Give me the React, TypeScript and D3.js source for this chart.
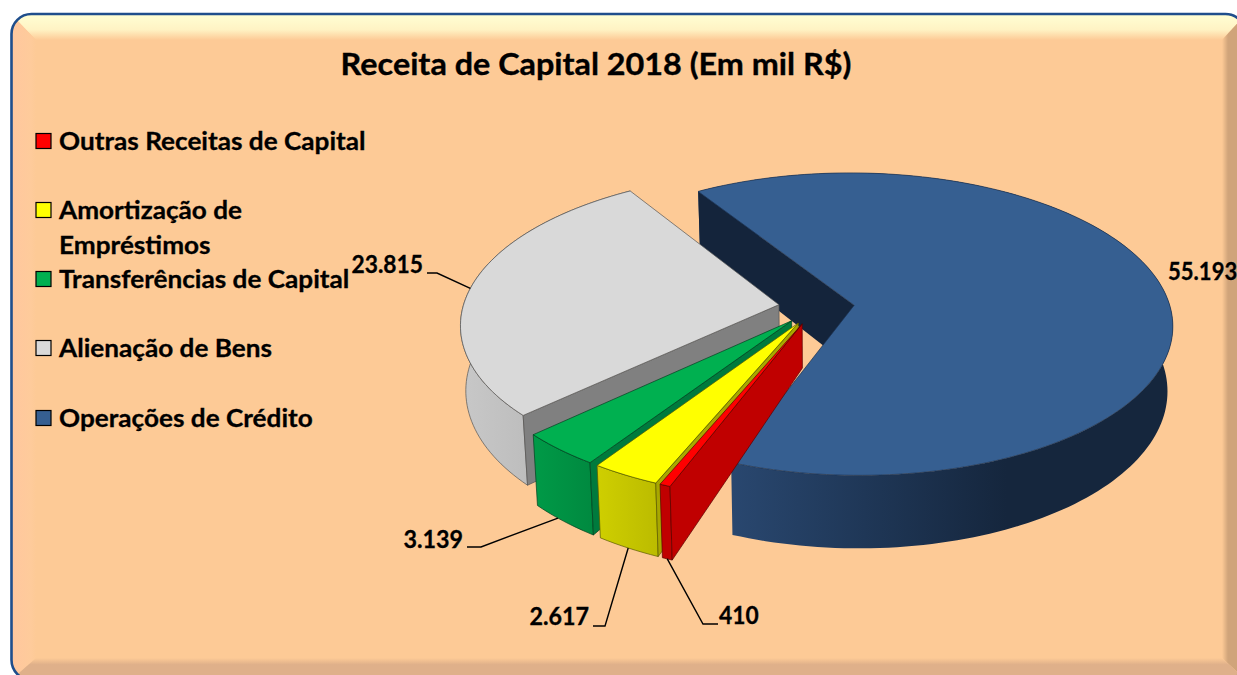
import React from "react";
import * as d3 from "d3";

const title = "Receita de Capital 2018 (Em mil R$)";
const categories = ["Outras Receitas de Capital", "Amortização de Empréstimos", "Transferências de Capital", "Alienação de Bens", "Operações de Crédito"];
const legendLines = [["Outras Receitas de Capital"], ["Amortização de", "Empréstimos"], ["Transferências de Capital"], ["Alienação de Bens"], ["Operações de Crédito"]];
const values = [410, 2617, 3139, 23815, 55193];
const topColors = ["#ff0000", "#ffff00", "#00b050", "#d9d9d9", "#365f91"];
const wallColors = ["#c00000", "#a8a800", "#007a3d", "#808080", "#14243b"];
const sideColors = [["#c00000", "#c00000"], ["#cfcf00", "#bcbc00"], ["#009a47", "#008a40"], ["#c8c8c8", "#adadad"], ["#29476f", "#15263d"]];
const edgeColors = ["#5a0000", "#5a5a00", "#00401f", "#555555", "#1c3250"];

const W = 1237, H = 675;
const cx = 816.5, cy = 307, A = 316, B = 149.3, K = 0.125, EXPL = 0.12, DEPTH = 64, BOTTOM_SCALE = 0.985;
const rad = (d: number) => (d * Math.PI) / 180;
const START = 201;

const fmt = d3.formatLocale({ decimal: ",", thousands: ".", grouping: [3], currency: ["R$", ""] }).format(",d");
const pie = d3.pie<number>().sort(null).startAngle(rad(START)).endAngle(rad(START + 360));
const arcs = pie(values);
const line = d3.line<number[]>().x((p) => p[0]).y((p) => p[1]);

function project(u: number, v: number, r: number, low: boolean, i: number) {
  const w = 1 - K * v;
  const x = cx + (A * u) / w;
  const y = cy + (B * v) / w;
  if (!low) return [x, y];
  const h0 = i < 3 ? 0.68 : 1;
  return [cx + (x - cx) * BOTTOM_SCALE, y + (DEPTH / w) * (h0 + (1 - h0) * r)];
}
function pt(i: number, a: number, r: number, low = false) {
  const m = (arcs[i].startAngle + arcs[i].endAngle) / 2;
  return project(EXPL * Math.sin(m) + r * Math.sin(a), -EXPL * Math.cos(m) - r * Math.cos(a), r, low, i);
}
function rim(i: number, low = false) {
  const { startAngle: s, endAngle: e } = arcs[i];
  return d3.range(0, 1.0001, 1 / Math.max(4, Math.ceil((e - s) * 40))).map((t) => pt(i, s + (e - s) * t, 1, low));
}
const closed = (pts: number[][]) => line(pts) + "Z";

// layer order: back to front
const order = [4, 3, 2, 1, 0];

const labelPos = [
  { x: 719, y: 624, anchor: "start", lx: 703, ly: 624, ex: 718, f: 0.5, sx: 0.95 },
  { x: 589, y: 625, anchor: "end", lx: 605, ly: 626, ex: 593, f: 0.5, sx: 0.97 },
  { x: 463, y: 548, anchor: "end", lx: 481, ly: 547, ex: 467, f: 0.6, sx: 0.97 },
  { x: 423, y: 273, anchor: "end", lx: 437, ly: 273, ex: 427, f: 0.49, sx: 0.95 },
  { x: 1168, y: 280, anchor: "start", lx: 0, ly: 0, ex: 0, f: 0, sx: 0.92 },
];
const legendY = [141, 210, 279, 348, 418];

export default function App() {
  return (
    <svg width={W} height={H} viewBox={`0 0 ${W} ${H}`} style={{ position: "absolute", left: 0, top: 0, background: "#fff", fontFamily: "Lato, sans-serif", fontWeight: 700 }}>
      <defs>
        <linearGradient id="bevT" x1="0" y1="0" x2="0" y2="1"><stop offset="0" stopColor="#ffffd4" /><stop offset="0.6" stopColor="#fff3c4" /><stop offset="1" stopColor="#fdca96" /></linearGradient>
        <linearGradient id="bevB" x1="0" y1="0" x2="0" y2="1"><stop offset="0" stopColor="#fdca96" /><stop offset="0.3" stopColor="#dfb08a" /><stop offset="1" stopColor="#dfb08a" /></linearGradient>
        <linearGradient id="bevL" x1="0" y1="0" x2="1" y2="0"><stop offset="0" stopColor="#ffc79e" /><stop offset="0.8" stopColor="#fecb9b" /><stop offset="1" stopColor="#fdca96" /></linearGradient>
        <linearGradient id="bevR" x1="0" y1="0" x2="1" y2="0"><stop offset="0" stopColor="#fdca96" /><stop offset="0.25" stopColor="#d0a47a" /><stop offset="1" stopColor="#d0a47a" /></linearGradient>
        <clipPath id="panel"><rect x={11.5} y={14} width={1234} height={666} rx={20} /></clipPath>
        {order.map((i) => {
          const r = rim(i);
          const xs = r.map((p) => p[0]);
          const x0 = d3.min(xs)!, x1 = d3.max(xs)!;
          return i === 4 ? (
            <linearGradient key={i} id={`side${i}`} gradientUnits="userSpaceOnUse" x1={732} y1={0} x2={1175} y2={0}>
              <stop offset="0" stopColor={sideColors[4][0]} /><stop offset="0.3" stopColor="#1f3757" /><stop offset="0.62" stopColor={sideColors[4][1]} /><stop offset="1" stopColor={sideColors[4][1]} />
            </linearGradient>
          ) : (
            <linearGradient key={i} id={`side${i}`} gradientUnits="userSpaceOnUse" x1={x0} y1={0} x2={x1} y2={0}>
              <stop offset="0" stopColor={sideColors[i][0]} /><stop offset="1" stopColor={sideColors[i][1]} />
            </linearGradient>
          );
        })}
      </defs>

      <g clipPath="url(#panel)">
        <rect x={11.5} y={14} width={1234} height={666} fill="#fdca96" />
        <polygon points="11,14 1246,14 1222,40 36,40" fill="url(#bevT)" />
        <polygon points="11,14 36,40 36,658 11,680" fill="url(#bevL)" />
        <polygon points="1246,14 1222,40 1222,658 1246,680" fill="url(#bevR)" />
        <polygon points="11,680 36,658 1222,658 1246,680" fill="url(#bevB)" />
      </g>
      <rect x={11.5} y={14} width={1234} height={666} rx={20} fill="none" stroke="#1f4e8c" strokeWidth={2.6} />

      {order.map((i) => {
        const s = arcs[i].startAngle;
        const apexT = pt(i, s, 0), apexB = pt(i, s, 0, true);
        const rT = rim(i), rB = rim(i, true);
        const wall = [apexT, rT[0], rB[0], apexB];
        const band = [...rT, ...rB.slice().reverse()];
        const top = [apexT, ...rT];
        const edge = edgeColors[i];
        return (
          <g key={i} strokeWidth={0.7} strokeLinejoin="round">
            <path d={closed(band)} fill={`url(#side${i})`} stroke={i === 4 ? "none" : edge} />
            <path d={closed(wall)} fill={wallColors[i]} stroke={i === 4 ? "none" : edge} />
            <path d={closed(top)} fill={topColors[i]} stroke={edge} />
          </g>
        );
      })}

      <text transform="translate(596,75) scale(1.078,1)" textAnchor="middle" fontSize={30} fill="#000" stroke="#000" strokeWidth={0.35}>{title}</text>

      {categories.map((c, i) => (
        <g key={c}>
          <rect x={36} y={legendY[i] - 7.5} width={15} height={15} fill={topColors[i]} stroke="#000" strokeWidth={1.2} />
          {legendLines[i].map((l, j) => (
            <text key={l} transform={`translate(59,${legendY[i] + 9 + j * 35}) scale(1.09,1)`} fontSize={24} fill="#000" stroke="#000" strokeWidth={0.3}>{l}</text>
          ))}
        </g>
      ))}

      {values.map((v, i) => {
        const p = labelPos[i];
        const { startAngle: s, endAngle: e } = arcs[i];
        const anchor = pt(i, s + (e - s) * p.f, 1, i < 3);
        return (
          <g key={i}>
            {p.ex > 0 && (
              <path d={line([[p.ex, p.ly], [p.lx, p.ly], anchor])!} fill="none" stroke="#000" strokeWidth={1.4} />
            )}
            <text transform={`translate(${p.x},${p.y}) scale(${p.sx},1)`} textAnchor={p.anchor as any} fontSize={24} fill="#000" stroke="#000" strokeWidth={0.3}>{fmt(v)}</text>
          </g>
        );
      })}
    </svg>
  );
}
